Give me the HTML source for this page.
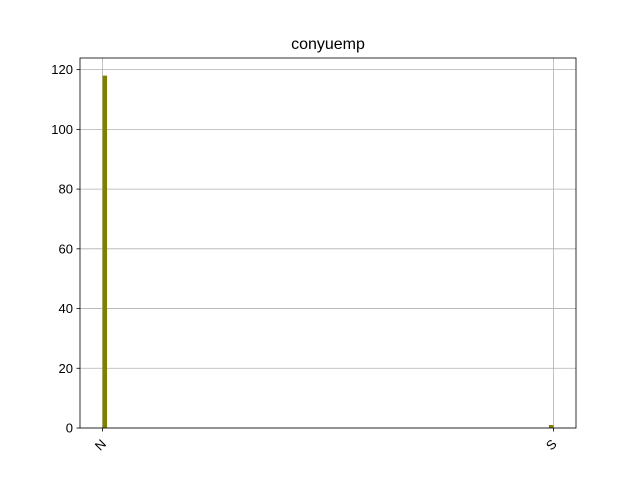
<!DOCTYPE html>
<html><head><meta charset="utf-8"><style>
body{margin:0;background:#fff;}
text{font-family:"Liberation Sans","DejaVu Sans",sans-serif;}
</style></head><body>
<svg id="chart" width="640" height="480" xmlns="http://www.w3.org/2000/svg">
<rect width="640" height="480" fill="#fff"/>
<text x="328" y="49" font-size="16" text-anchor="middle">conyuemp</text>
<g id="grid"></g><g id="bars"></g><g id="axes"></g>
</svg>
<script>
const categories = ["N", "S"];
const categoryPos = [0, 1];
const counts = [118, 1];
const yTicks = [0, 20, 40, 60, 80, 100, 120];
const L=80,R=576,T=58,B=428;
const xMin=-0.05,xMax=1.05,yMax=123.9,binW=0.01;
const sx=v=>L+(v-xMin)/(xMax-xMin)*(R-L);
const sy=v=>B-v/yMax*(B-T);
const NS="http://www.w3.org/2000/svg";
function mk(tag,attrs,parent,txt){const e=document.createElementNS(NS,tag);for(const k in attrs)e.setAttribute(k,attrs[k]);if(txt!==undefined)e.textContent=txt;parent.appendChild(e);return e;}
const grid=document.getElementById('grid'),bars=document.getElementById('bars'),axes=document.getElementById('axes');
yTicks.forEach(t=>{const y=sy(t);
 const g=mk('line',{x1:L,x2:R,y1:y,y2:y,stroke:'#b0b0b0','stroke-width':0.8},grid);
 
 
 const tk=mk('line',{x1:L-3.5,x2:L,y1:y,y2:y,stroke:'#000','stroke-width':0.8},axes);
 
 
 const lb=mk('text',{x:L-7,y:y+4.5,'font-size':13,'text-anchor':'end'},axes,String(t));
 
 
});
categories.forEach((c,i)=>{const x=sx(categoryPos[i]);
 const g=mk('line',{x1:x,x2:x,y1:T,y2:B,stroke:'#b0b0b0','stroke-width':0.8},grid);
 
 
 const tk=mk('line',{x1:x,x2:x,y1:B,y2:B+3.5,stroke:'#000','stroke-width':0.8},axes);
 
 
 const lb=mk('text',{x:0,y:0,'font-size':13,'text-anchor':'middle',transform:`translate(${x+1},${B+20}) rotate(-45)`},axes,c);
 
 
 const lo=i===0?categoryPos[i]:categoryPos[i]-binW, hi=lo+binW;
 const b=mk('rect',{x:sx(lo),y:sy(counts[i]),width:sx(hi)-sx(lo),height:B-sy(counts[i]),fill:'#808000'},bars);
 
 
});
const fr=mk('rect',{x:L,y:T,width:R-L,height:B-T,fill:'none',stroke:'#000','stroke-width':0.8},axes);


</script>
</body></html>
